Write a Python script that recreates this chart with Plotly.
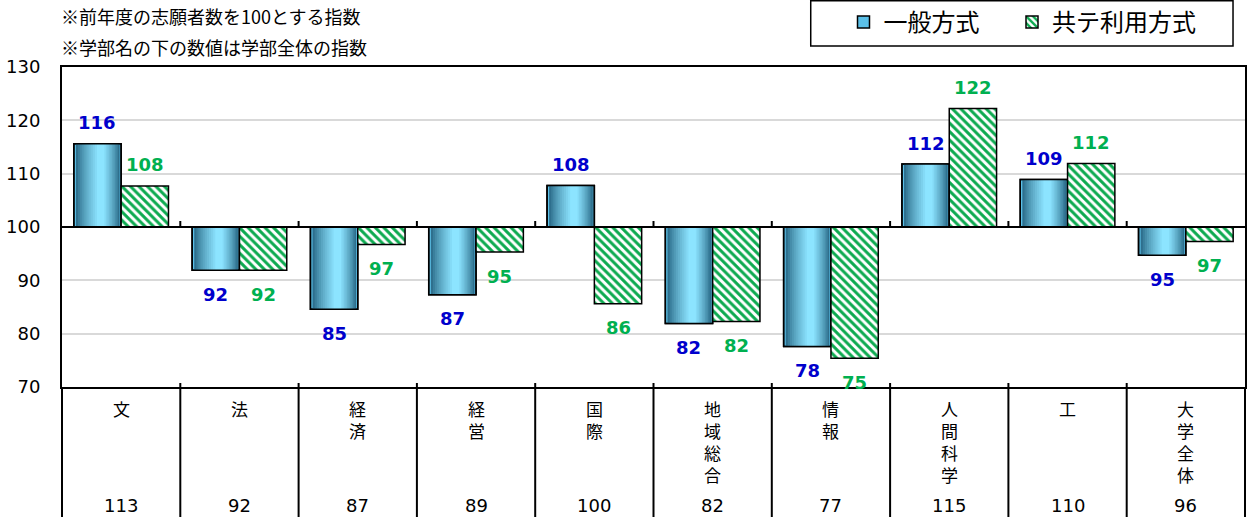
import plotly.graph_objects as go

# ---------------- data ----------------
categories = ["文", "法", "経済", "経営", "国際", "地域総合", "情報", "人間科学", "工", "大学全体"]
ippan = [115.6, 91.9, 84.6, 87.3, 107.8, 81.9, 77.6, 111.8, 108.9, 94.7]      # 一般方式
kyotsu = [107.7, 91.9, 96.7, 95.3, 85.6, 82.3, 75.4, 122.2, 111.9, 97.3]    # 共テ利用方式
faculty_index = [113, 92, 87, 89, 100, 82, 77, 115, 110, 96]               # 学部全体の指数
y_ticks = [70, 80, 90, 100, 110, 120, 130]
series_names = ["一般方式", "共テ利用方式"]
notes = ["※前年度の志願者数を100とする指数", "※学部名の下の数値は学部全体の指数"]
BASE = 100

# ---------------- layout constants ----------------
W, H = 1250, 517
ML, MR, MT, MB = 62, 3, 67, 130
PW, PH = W - ML - MR, H - MT - MB
JP = "Noto Sans CJK JP"
NUM = "DejaVu Sans"
BLUE_TXT = "#0000CC"
GREEN_TXT = "#00B050"
GREEN = "#0DAA50"
BW = 0.4  # bar width in category units

fig = go.Figure()

# ----- 一般方式 : gradient bars made of nested overlaid bars -----
dark = (27, 88, 118)
light = (140, 228, 255)
rel_ippan = [v - BASE for v in ippan]

fig.add_trace(go.Bar(
    x=categories, y=rel_ippan, base=BASE, name=series_names[0],
    offset=-BW, width=BW, legend="legend",
    marker=dict(color="#5BC0E8", line=dict(color="black", width=1.5)),
    showlegend=True, hoverinfo="skip",
))
n = 12
for k in range(1, n):
    t = k / n * 0.92
    s = (k / (n - 1)) ** 0.75
    col = tuple(int(round(dark[i] + (light[i] - dark[i]) * s)) for i in range(3))
    fig.add_trace(go.Bar(
        x=categories, y=rel_ippan, base=BASE,
        offset=-BW + BW * 0.58 * t, width=BW * (1 - t),
        marker=dict(color="rgb(%d,%d,%d)" % col, line=dict(width=0)),
        showlegend=False, hoverinfo="skip",
    ))
fig.add_trace(go.Bar(
    x=categories, y=rel_ippan, base=BASE,
    offset=-BW, width=BW,
    marker=dict(color="rgba(0,0,0,0)", line=dict(color="black", width=1.5)),
    showlegend=False, hoverinfo="skip",
))

# ----- 共テ利用方式 : hatched bars -----
fig.add_trace(go.Bar(
    x=categories, y=[v - BASE for v in kyotsu], base=BASE, name=series_names[1],
    offset=0, width=BW, legend="legend2",
    marker=dict(color="white", line=dict(color="black", width=1.5),
                pattern=dict(shape="\\", fgcolor=GREEN, bgcolor="white", fgopacity=1,
                             size=6, solidity=0.5, fillmode="overlay")),
    hoverinfo="skip",
))

annotations = []
# data labels
for i, v in enumerate(ippan):
    annotations.append(dict(
        x=i - BW / 2, y=v, xref="x", yref="y", text=str(int(round(v))),
        showarrow=False, yshift=21 if v >= BASE else -24,
        font=dict(family=NUM, size=18, color=BLUE_TXT, weight=700),
    ))
for i, v in enumerate(kyotsu):
    annotations.append(dict(
        x=i + BW / 2, y=v, xref="x", yref="y", text=str(int(round(v))),
        showarrow=False, yshift=21 if v >= BASE else -24,
        font=dict(family=NUM, size=18, color=GREEN_TXT, weight=700),
    ))

# notes at top
for j, txt in enumerate(notes):
    annotations.append(dict(
        x=0, y=1, xref="paper", yref="paper", xanchor="left", yanchor="middle",
        text=txt, showarrow=False, xshift=-3, yshift=(MT - 16) - 31 * j,
        font=dict(family=JP, size=18, color="black"),
    ))

# table below the chart: vertical category names and faculty indices
for i, name in enumerate(categories):
    annotations.append(dict(
        x=i, y=0, xref="x", yref="paper", xanchor="center", yanchor="top",
        text="<br>".join(name), showarrow=False, yshift=-7,
        font=dict(family=JP, size=17, color="black"),
    ))
    annotations.append(dict(
        x=i, y=0, xref="x", yref="paper", xanchor="center", yanchor="middle",
        text=str(faculty_index[i]), showarrow=False, yshift=-118,
        font=dict(family=NUM, size=18, color="black"),
    ))

shapes = []
# base line at 100
shapes.append(dict(type="line", xref="paper", yref="y", x0=0, x1=1, y0=BASE, y1=BASE,
                   line=dict(color="black", width=2), layer="above"))
for i in range(len(categories) - 1):
    xb = i + 0.5
    # small tick marks above the 100 line
    shapes.append(dict(type="line", xref="x", yref="y", ysizemode="pixel", yanchor=BASE,
                       x0=xb, x1=xb, y0=0, y1=6, line=dict(color="black", width=2), layer="above"))
    # table separators
    shapes.append(dict(type="line", xref="x", yref="paper", x0=xb, x1=xb,
                       y0=-0.6, y1=4 / PH, line=dict(color="black", width=2), layer="above"))
for xp in (0, 1):
    shapes.append(dict(type="line", xref="paper", yref="paper", x0=xp, x1=xp,
                       y0=-0.6, y1=0, line=dict(color="black", width=2), layer="above"))
# legend frame
shapes.append(dict(type="rect", xref="paper", yref="paper",
                   x0=(812 - ML) / PW, x1=(1235 - ML) / PW,
                   y0=1 + (MT - 46) / PH, y1=1 + (MT - 0.75) / PH,
                   line=dict(color="black", width=1.5), fillcolor="rgba(0,0,0,0)"))

legend_common = dict(
    orientation="h", xref="container", yref="container",
    xanchor="left", y=1, yanchor="top",
    borderwidth=0, bgcolor="rgba(0,0,0,0)",
    font=dict(family=JP, size=24, color="black"),
)

fig.update_layout(
    width=W, height=H,
    margin=dict(l=ML, r=MR, t=MT, b=MB, pad=0),
    paper_bgcolor="white", plot_bgcolor="white",
    barmode="overlay",
    showlegend=True,
    legend=dict(x=843.5 / W, **legend_common),
    legend2=dict(x=1012 / W, **legend_common),
    xaxis=dict(
        type="category", range=[-0.5, len(categories) - 0.5],
        showticklabels=False, ticks="", showgrid=False, zeroline=False,
        showline=True, linecolor="black", linewidth=2, mirror=True,
    ),
    yaxis=dict(
        range=[70, 130], tickvals=y_ticks, ticktext=[str(t) for t in y_ticks],
        tickfont=dict(family=NUM, size=18, color="black"),
        showgrid=True, gridcolor="#D9D9D9", gridwidth=1.5, zeroline=False,
        showline=True, linecolor="black", linewidth=2, mirror=True,
        ticks="", ticklabelstandoff=16,
    ),
    annotations=annotations,
    shapes=shapes,
)

fig.write_html("out.html", config={"displayModeBar": False},
               post_script="document.body.style.margin='0';")
